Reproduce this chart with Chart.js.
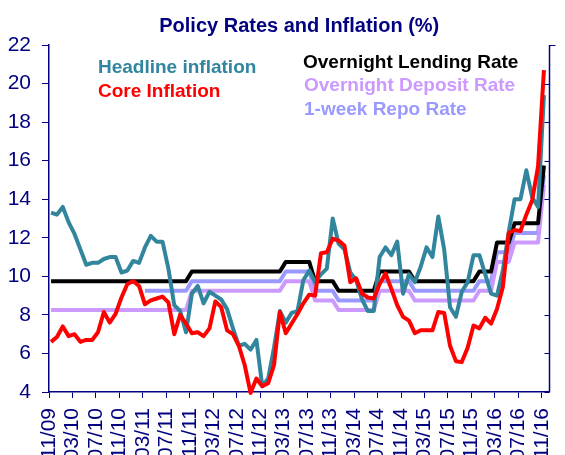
<!DOCTYPE html>
<html>
<head>
<meta charset="utf-8">
<script src="https://cdn.jsdelivr.net/npm/chart.js@4.4.1/dist/chart.umd.min.js"></script>
<style>
  html, body { margin: 0; padding: 0; background: #fff; overflow: hidden; }
  #wrap { width: 565px; height: 455px; }
</style>
</head>
<body>
<div id="wrap"><canvas id="policyChart"></canvas></div>
<script>
const chartTitle = 'Policy Rates and Inflation (%)';

// one tick label every 4 months, 11/09 .. 11/16
const tickLabels = ['11/09', '03/10', '07/10', '11/10', '03/11', '07/11', '11/11', '03/12',
  '07/12', '11/12', '03/13', '07/13', '11/13', '03/14', '07/14', '11/14', '03/15', '07/15',
  '11/15', '03/16', '07/16', '11/16'];

// monthly values, Nov 2009 .. Nov 2016 (rows = calendar years)
const headline = [
  13.3, 13.2,
  13.6, 12.8, 12.2, 11.4, 10.6, 10.7, 10.7, 10.9, 11.0, 11.0, 10.2, 10.3,
  10.8, 10.7, 11.5, 12.1, 11.8, 11.8, 10.4, 8.5, 8.2, 7.1, 9.1, 9.5,
  8.6, 9.2, 9.0, 8.8, 8.3, 7.3, 6.4, 6.5, 6.2, 6.7, 4.3, 4.7,
  6.3, 8.2, 7.6, 8.1, 8.2, 9.8, 10.3, 9.7, 10.1, 10.4, 13.0, 11.7,
  11.4, 10.2, 9.8, 8.8, 8.2, 8.2, 11.0, 11.5, 11.1, 11.8, 9.1, 10.1,
  9.7, 10.5, 11.5, 11.0, 13.1, 11.4, 8.4, 7.9, 9.2, 9.7, 11.1, 11.1,
  10.1, 9.1, 9.0, 10.3, 12.3, 14.0, 14.0, 15.5, 14.1, 13.6, 19.4
];

const core = [
  6.6, 6.85,
  7.4, 6.9, 7.0, 6.6, 6.7, 6.7, 7.1, 8.15, 7.6, 8.05, 8.9, 9.6,
  9.75, 9.5, 8.55, 8.75, 8.85, 8.95, 8.65, 7.0, 8.0, 7.55, 7.05, 7.1,
  6.9, 7.3, 8.7, 8.4, 7.2, 7.0, 6.4, 5.4, 3.95, 4.7, 4.3, 4.45,
  5.4, 8.15, 7.05, 7.55, 8.05, 8.6, 9.05, 9.0, 11.2, 11.25, 11.95, 11.85,
  11.6, 9.7, 9.9, 9.1, 8.9, 8.85, 9.6, 10.15, 9.35, 8.5, 7.9, 7.7,
  7.05, 7.2, 7.2, 7.2, 8.15, 8.1, 6.4, 5.6, 5.55, 6.3, 7.45, 7.3,
  7.85, 7.55, 8.3, 9.45, 12.25, 12.4, 12.35, 13.2, 13.95, 15.7, 20.7
];

const lendingRate = [
  9.75, 9.75,
  9.75, 9.75, 9.75, 9.75, 9.75, 9.75, 9.75, 9.75, 9.75, 9.75, 9.75, 9.75,
  9.75, 9.75, 9.75, 9.75, 9.75, 9.75, 9.75, 9.75, 9.75, 9.75, 10.25, 10.25,
  10.25, 10.25, 10.25, 10.25, 10.25, 10.25, 10.25, 10.25, 10.25, 10.25, 10.25, 10.25,
  10.25, 10.25, 10.75, 10.75, 10.75, 10.75, 10.75, 9.75, 9.75, 9.75, 9.75, 9.25,
  9.25, 9.25, 9.25, 9.25, 9.25, 9.25, 10.25, 10.25, 10.25, 10.25, 10.25, 10.25,
  9.75, 9.75, 9.75, 9.75, 9.75, 9.75, 9.75, 9.75, 9.75, 9.75, 9.75, 10.25,
  10.25, 10.25, 11.75, 11.75, 11.75, 12.75, 12.75, 12.75, 12.75, 12.75, 15.75
];

const depositRate = [
  8.25, 8.25,
  8.25, 8.25, 8.25, 8.25, 8.25, 8.25, 8.25, 8.25, 8.25, 8.25, 8.25, 8.25,
  8.25, 8.25, 8.25, 8.25, 8.25, 8.25, 8.25, 8.25, 8.25, 8.25, 9.25, 9.25,
  9.25, 9.25, 9.25, 9.25, 9.25, 9.25, 9.25, 9.25, 9.25, 9.25, 9.25, 9.25,
  9.25, 9.25, 9.75, 9.75, 9.75, 9.75, 9.75, 8.75, 8.75, 8.75, 8.75, 8.25,
  8.25, 8.25, 8.25, 8.25, 8.25, 8.25, 9.25, 9.25, 9.25, 9.25, 9.25, 9.25,
  8.75, 8.75, 8.75, 8.75, 8.75, 8.75, 8.75, 8.75, 8.75, 8.75, 8.75, 9.25,
  9.25, 9.25, 10.75, 10.75, 10.75, 11.75, 11.75, 11.75, 11.75, 11.75, 14.75
];

const repoRate = [
  null, null,
  null, null, null, null, null, null, null, null, null, null, null, null,
  null, null, 9.25, 9.25, 9.25, 9.25, 9.25, 9.25, 9.25, 9.25, 9.75, 9.75,
  9.75, 9.75, 9.75, 9.75, 9.75, 9.75, 9.75, 9.75, 9.75, 9.75, 9.75, 9.75,
  9.75, 9.75, 10.25, 10.25, 10.25, 10.25, 10.25, 9.25, 9.25, 9.25, 9.25, 8.75,
  8.75, 8.75, 8.75, 8.75, 8.75, 8.75, 9.75, 9.75, 9.75, 9.75, 9.75, 9.75,
  9.25, 9.25, 9.25, 9.25, 9.25, 9.25, 9.25, 9.25, 9.25, 9.25, 9.25, 9.75,
  9.75, 9.75, 11.25, 11.25, 11.25, 12.25, 12.25, 12.25, 12.25, 12.25, 15.25
];

const navy = '#000080';
const fontFamily = '"Liberation Sans", Arial, sans-serif';
const tickShift = -0.35;

Chart.defaults.font.family = fontFamily;

function toPoints(values) {
  return values.map((v, i) => ({ x: i, y: v }));
}

function lineSet(label, values, color, order) {
  return {
    label: label,
    data: toPoints(values),
    borderColor: color,
    backgroundColor: color,
    borderWidth: 4,
    pointRadius: 0,
    tension: 0,
    borderJoinStyle: 'round',
    clip: false,
    order: order
  };
}

// title, in-plot legend text and the right-hand frame line
const chartDecor = {
  id: 'chartDecor',
  afterDraw(chart, args, opts) {
    const { ctx, chartArea: area, scales } = chart;
    ctx.save();

    ctx.fillStyle = navy;
    ctx.font = 'bold 20px ' + fontFamily;
    ctx.textAlign = 'center';
    ctx.textBaseline = 'alphabetic';
    ctx.fillText(chartTitle, (area.left + area.right) / 2, opts.titleY);

    ctx.font = 'bold 19px ' + fontFamily;
    ctx.textAlign = 'left';
    chart.data.datasets.forEach((ds, i) => {
      const p = opts.legendAt[i];
      ctx.fillStyle = ds.borderColor;
      ctx.fillText(ds.label, p[0], p[1]);
    });

    ctx.strokeStyle = navy;
    ctx.lineWidth = 1.5;
    ctx.beginPath();
    ctx.moveTo(area.right, area.top);
    ctx.lineTo(area.right, area.bottom);
    ctx.stroke();

    ctx.lineWidth = 1;
    scales.y.ticks.forEach(t => {
      const py = Math.round(scales.y.getPixelForValue(t.value)) + 0.5;
      ctx.beginPath();
      if (t.value === scales.y.max) {
        ctx.moveTo(area.right, py);
        ctx.lineTo(area.right + 6, py);
      } else {
        ctx.moveTo(area.right - 5, py);
        ctx.lineTo(area.right, py);
      }
      ctx.stroke();
    });
    ctx.restore();
  }
};

const ctx = document.getElementById('policyChart');

new Chart(ctx, {
  type: 'line',
  data: {
    datasets: [
      lineSet('Headline inflation', headline, '#31859C', 1),
      lineSet('Core Inflation', core, '#FF0000', 0),
      lineSet('Overnight Lending Rate', lendingRate, '#000000', 2),
      lineSet('Overnight Deposit Rate', depositRate, '#CC99FF', 3),
      lineSet('1-week Repo Rate', repoRate, '#9999FF', 4)
    ]
  },
  options: {
    responsive: true,
    maintainAspectRatio: false,
    animation: false,
    devicePixelRatio: 1,
    layout: {
      padding: { top: 45, right: 15.5, left: 0, bottom: 0 }
    },
    plugins: {
      legend: { display: false },
      title: { display: false },
      tooltip: { enabled: false },
      chartDecor: {
        titleY: 32,
        legendAt: [[98, 73], [98, 97], [303, 68], [304, 91], [304, 115]]
      }
    },
    scales: {
      x: {
        type: 'linear',
        min: tickShift,
        max: 84.95,
        afterBuildTicks: axis => {
          axis.ticks = tickLabels.map((_, k) => ({ value: k * 4 + tickShift }));
        },
        afterFit: axis => {
          axis.height = 63;
          axis.paddingLeft = 0;
          axis.paddingRight = 0;
        },
        ticks: {
          autoSkip: false,
          minRotation: 90,
          maxRotation: 90,
          padding: 10,
          color: navy,
          font: { size: 21 },
          callback: (value, index) => tickLabels[index]
        },
        grid: {
          drawOnChartArea: false,
          tickLength: 6,
          color: navy,
          lineWidth: 1
        },
        border: { color: navy, width: 1.5 }
      },
      y: {
        min: 4,
        max: 22,
        afterFit: axis => {
          axis.width = 49;
          axis.paddingTop = 0;
          axis.paddingBottom = 0;
        },
        ticks: {
          stepSize: 2,
          padding: 11,
          color: navy,
          font: { size: 21 }
        },
        grid: {
          drawOnChartArea: false,
          tickLength: 7,
          color: navy,
          lineWidth: 1
        },
        border: { color: navy, width: 1.5 }
      }
    }
  },
  plugins: [chartDecor]
});
</script>
</body>
</html>
